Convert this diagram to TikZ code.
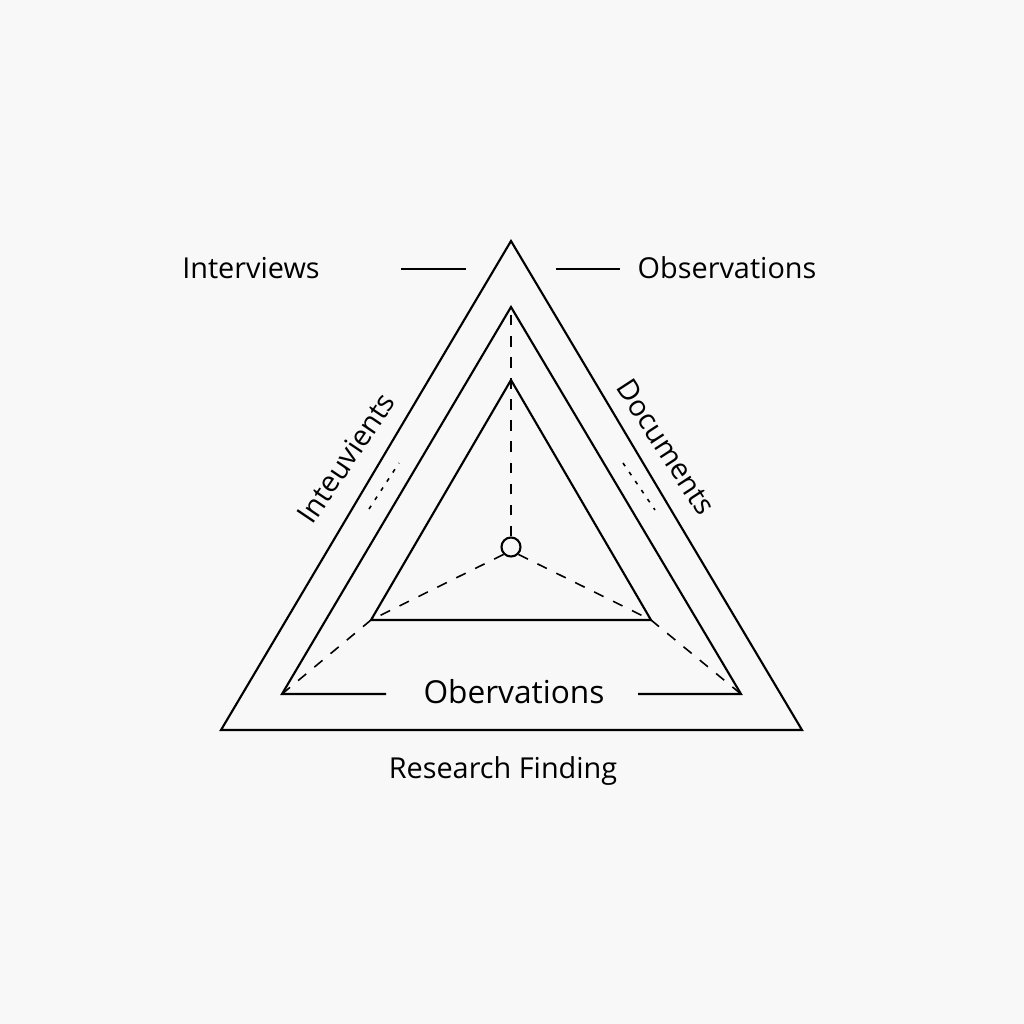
\documentclass[tikz,border=0pt]{standalone}
\usepackage{fontspec}
\setmainfont{Open Sans}
\definecolor{bg}{RGB}{247,248,247}
\begin{document}
\begin{tikzpicture}[x=0.01cm,y=-0.01cm,
  edge/.style={line width=0.6pt,line join=miter},
  dash line/.style={line width=0.45pt,dash pattern=on 3pt off 3pt},
  tick line/.style={line width=0.45pt,dash pattern=on 1.1pt off 2pt},
  lbl/.style={inner sep=0pt,font=\fontsize{8.2pt}{10pt}\selectfont}]
\fill[bg] (0,0) rectangle (1024,1024);
\useasboundingbox (0,0) rectangle (1024,1024);
% outer triangle
\coordinate (oA) at (511,241);
\coordinate (oL) at (221,730);
\coordinate (oR) at (802,730);
\draw[edge] (oA) -- (oL) -- (oR) -- cycle;
% middle triangle
\coordinate (mA) at (511,307);
\coordinate (mL) at (282,694);
\coordinate (mR) at (741,694);
\coordinate (mL2) at (386,694);
\coordinate (mR2) at (638,694);
\draw[edge] (mL2) -- (mL) -- (mA) -- (mR) -- (mR2);
% inner triangle
\coordinate (iA) at (511,380);
\coordinate (iL) at (371,620);
\coordinate (iR) at (651,620);
\draw[edge] (iA) -- (iL) -- (iR) -- cycle;
% center
\node[circle,draw,line width=0.6pt,minimum size=0.19cm,inner sep=0pt] (c) at (511,547) {};
\draw[dash line] (c.north) -- (mA);
\draw[dash line] (c.south west) -- (iL) -- (mL);
\draw[dash line] (c.south east) -- (iR) -- (mR);
% ticks
\coordinate (tl1) at (369,509);
\coordinate (tl2) at (399,463);
\coordinate (tr1) at (623,463);
\coordinate (tr2) at (655,510);
\draw[tick line] (tl1) -- (tl2);
\draw[tick line] (tr1) -- (tr2);
% top labels
\coordinate (hl1) at (401,269);
\coordinate (hl2) at (466,269);
\coordinate (hr1) at (556,269);
\coordinate (hr2) at (620,269);
\draw[edge] (hl1) -- (hl2);
\draw[edge] (hr1) -- (hr2);
\node[lbl] (int) at (251,268) {Interviews};
\node[lbl,anchor=west] (obs) at (637,268) {Observations};
\node[lbl,rotate=56] (intv) at (346,458) {Inteuvients};
\node[lbl,rotate=-57] (doc) at (666,447) {Documents};
\node[inner sep=0pt,font=\fontsize{9pt}{11pt}\selectfont] (obv) at (514,692) {Obervations};
\node[lbl] (rf) at (503,771) {Research Finding};
\end{tikzpicture}
\end{document}
